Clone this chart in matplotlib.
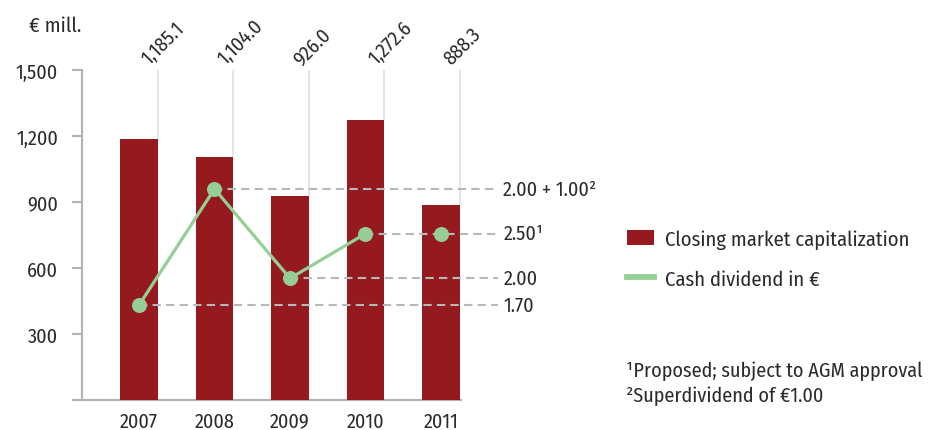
import matplotlib
matplotlib.use("Agg")
import matplotlib.pyplot as plt
from matplotlib import font_manager
from matplotlib.patches import Patch
from matplotlib.lines import Line2D

# ---- data ----
years = ["2007", "2008", "2009", "2010", "2011"]
market_cap = [1185.1, 1104.0, 926.0, 1272.6, 888.3]
market_cap_labels = ["1,185.1", "1,104.0", "926.0", "1,272.6", "888.3"]
dividend = [1.70, 3.00, 2.00, 2.50, 2.50]
dividend_labels = ["1.70", "2.00 + 1.00²", "2.00", "2.50¹", ""]
yticks = [0, 300, 600, 900, 1200, 1500]
ytick_labels = ["", "300", "600", "900", "1,200", "1,500"]
footnotes = ["¹Proposed; subject to AGM approval", "²Superdividend of €1.00"]

# ---- style ----
def pick_font(names):
    for n in names:
        try:
            font_manager.findfont(n, fallback_to_default=False)
            return n
        except Exception:
            pass
    return "DejaVu Sans"

FONT = pick_font(["Fira Sans Condensed", "IBM Plex Sans Condensed", "Liberation Sans"])
plt.rcParams["font.family"] = [FONT, "DejaVu Sans"]
TXT = "#2b2b2b"
RED = "#951a20"
GREEN = "#95cf95"
AX = "#b3b3b3"
GRID = "#e3e3e3"
DASH = "#b8b8b8"
FS = 14.5

fig = plt.figure(figsize=(9.32, 4.31), dpi=100)
W, H = 932, 431
ax = fig.add_axes([82 / W, (H - 401) / H, (461 - 82) / W, 330 / H])

x = list(range(len(years)))
bw = 0.503
ax.bar(x, market_cap, width=bw, color=RED, zorder=3)
ax.set_xlim(-0.755, 4.265)
ax.set_ylim(0, 1500)

# light vertical guide lines at right edge of each bar up to the top
for xi, v in zip(x, market_cap):
    ax.plot([xi + bw / 2 - 0.005] * 2, [v, 1500], color=GRID, lw=1.3, zorder=1,
            solid_capstyle="butt")
    ax.annotate(market_cap_labels[xi], xy=(xi + bw / 2, 1500), xytext=(-6, 3.5),
                textcoords="offset points", rotation=45, rotation_mode="anchor",
                ha="left", va="baseline", fontsize=FS, color=TXT,
                annotation_clip=False)

for s in ["top", "right"]:
    ax.spines[s].set_visible(False)
for s in ["left", "bottom"]:
    ax.spines[s].set_color(AX)
    ax.spines[s].set_linewidth(1.5)
ax.set_yticks(yticks)
ax.set_yticklabels(ytick_labels)
ax.tick_params(axis="y", length=7.2, width=1.5, color=AX, pad=10,
               labelsize=FS, labelcolor=TXT)
ax.set_xticks(x)
ax.set_xticklabels(years)
ax.tick_params(axis="x", length=0, pad=8, labelsize=FS, labelcolor=TXT)

# dividend on a twin axis
ax2 = ax.twinx()
ax2.set_ylim(0.639, 4.331)
ax2.axis("off")
ax2.plot(x[:4], dividend[:4], color=GREEN, lw=2.3, zorder=4, solid_capstyle="round")
ax2.plot(x, dividend, ls="none", marker="o", ms=10.8, color=GREEN, zorder=5,
         markeredgewidth=0)
for xi, v, lab in zip(x, dividend, dividend_labels):
    if not lab:
        continue
    ax2.plot([xi, 4.755], [v, v], color=DASH, lw=1.5, dashes=(4, 2.5), zorder=2,
             clip_on=False)
    ax2.text(4.825, v, lab, ha="left", va="center", fontsize=FS, color=TXT,
             clip_on=False)

fig.text(29 / W, 1 - 32 / H, "€ mill.", ha="left", va="baseline", fontsize=FS + 0.5,
         color=TXT)

handles = [Patch(facecolor=RED, edgecolor="none"),
           Line2D([0], [0], color=GREEN, lw=4.2)]
leg = fig.legend(handles, ["Closing market capitalization", "Cash dividend in €"],
                 loc="upper left", bbox_to_anchor=(627 / W, 1 - 230 / H),
                 frameon=False, fontsize=FS + 0.3, handlelength=1.3, handleheight=0.8,
                 handletextpad=0.55, labelspacing=1.0, borderpad=0,
                 borderaxespad=0)
for t in leg.get_texts():
    t.set_color(TXT)

fig.text(626 / W, 1 - 377 / H, footnotes[0], ha="left", va="baseline",
         fontsize=FS, color=TXT)
fig.text(626 / W, 1 - 402 / H, footnotes[1], ha="left", va="baseline",
         fontsize=FS, color=TXT)

fig.savefig("out.png", dpi=100)
